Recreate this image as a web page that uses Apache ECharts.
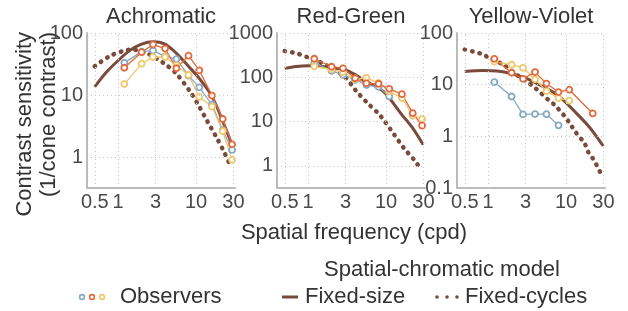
<!DOCTYPE html>
<html lang="en">
<head>
  <meta charset="utf-8">
</head>
<body style="margin: 0">
  <div id="container" style="width: 628px; height: 311px"></div>

  <script type="text/javascript" src="https://cdn.jsdelivr.net/npm/echarts@6/dist/echarts.min.js"></script>
  <script type="text/javascript">
    // spatial frequencies (cpd) used by the observers
    var freqs = [1.2, 2, 2.8, 4, 5.6, 8, 11, 16, 22, 29];
    var yvOrangeFreqs = [1.2, 2, 2.8, 4, 5.6, 8, 11, 22];

    var panelTitles = ['Achromatic', 'Red-Green', 'Yellow-Violet'];
    var xTicks = [0.5, 1, 3, 10, 30];
    var yTicks = [[1, 10, 100], [1, 10, 100, 1000], [0.1, 1, 10, 100]];

    // observers, contrast sensitivity
    var achBlue = [33, 50, 52, 42, 38, 20.5, 13.3, 7.0, 2.7, 1.3];
    var achOrange = [27.5, 49, 65, 56, 27, 43, 25, 9.8, 4.1, 1.6];
    var achYellow = [15, 32, 41, 41, 30, 21, 9.3, 6.5, 2.6, 0.9];

    var rgBlue = [213, 139, 113, 87, 67, 61, 37];
    var rgOrange = [262, 173, 159, 95, 73, 71, 55, 41.5, 15.5, 8.1];
    var rgYellow = [177, 150, 130, 90, 97, 75, 48, 34, 13.5, 11.4];

    var yvBlue = [11.2, 5.9, 2.65, 2.7, 2.68, 1.63];
    var yvOrange = [31.7, 17, 13, 17.5, 10.5, 7.2, 8.0, 2.77];
    var yvYellow = [28, 24.3, 21.2, 12.7, 7.5, 5.5, 4.9];

    // model curves, [cpd, sensitivity]
    var achFixedSize = [[0.5, 13.5], [0.7, 23], [1, 36], [1.4, 52], [2, 66], [2.8, 72], [4, 66], [5.6, 47], [8, 29], [11, 18.5], [16, 9.5], [22, 3.8], [30, 1.4]];
    var achFixedCycles = [[0.5, 29], [0.77, 42], [1.2, 52], [1.5, 54], [2.3, 47.5], [3.8, 33], [5.6, 22], [8.6, 10.8], [11, 6.5], [14, 3.75], [18, 2.15], [22.5, 1.26], [28, 0.7]];
    var rgFixedSize = [[0.5, 159], [0.7, 175], [1, 182], [1.5, 175], [2, 165], [3, 146], [4, 115], [5.6, 80], [8, 57], [10, 42], [16, 14.2], [22, 7.1], [30, 3.0]];
    var rgFixedCycles = [[0.5, 390], [0.7, 350], [1, 280], [1.5, 210], [2, 160], [3, 100], [4.1, 50], [5.8, 26], [8.1, 14.8], [9.5, 10.4], [12.8, 5], [17, 2.5], [23.5, 1.3], [27, 0.9]];
    var yvFixedSize = [[0.5, 18], [0.86, 18.8], [1.3, 18.3], [2, 16.3], [3, 13.5], [3.9, 11.2], [5.6, 8.5], [7.9, 6.2], [13, 3.0], [20, 1.5], [30, 0.65]];
    var yvFixedCycles = [[0.5, 47.7], [0.64, 43.7], [0.82, 39.4], [1.04, 33], [1.62, 23.5], [2.4, 15], [3.4, 10.5], [4.1, 8.4], [6, 5], [7.2, 4], [9.7, 2.4], [11.4, 1.7], [13.2, 1.22], [17.3, 0.73], [19.1, 0.51], [21.9, 0.38], [24.9, 0.27], [28, 0.19]];

    var blue = '#86a8c4';
    var orange = '#e2693a';
    var yellow = '#f0c76c';
    var brown = '#7a4a3a';
    var font = 'Liberation Sans, Arial, sans-serif';

    var panels = [
      { obs: [[freqs, achBlue, blue], [freqs, achYellow, yellow], [freqs, achOrange, orange]], size: achFixedSize, cycles: achFixedCycles, yMin: -0.5, yMax: 2 },
      { obs: [[freqs, rgBlue, blue], [freqs, rgYellow, yellow], [freqs, rgOrange, orange]], size: rgFixedSize, cycles: rgFixedCycles, yMin: -0.5, yMax: 3 },
      { obs: [[freqs, yvBlue, blue], [freqs, yvYellow, yellow], [yvOrangeFreqs, yvOrange, orange]], size: yvFixedSize, cycles: yvFixedCycles, yMin: -1, yMax: 2 }
    ];
    var gridLefts = [87, 277, 457];

    // axes are plain value axes holding log10 values
    function lg(pairs) {
      return pairs.map(function (p) { return [Math.log10(p[0]), Math.log10(p[1])]; });
    }
    function zip(xs, ys) {
      return ys.map(function (y, i) { return [xs[i], y]; });
    }

    var grid = [], xAxis = [], yAxis = [], series = [], graphic = [];
    var axisLine = { show: true, onZero: false, lineStyle: { color: '#bababa', width: 2 } };

    panels.forEach(function (p, i) {
      grid.push({ left: gridLefts[i], top: 33, width: 148, height: 155 });
      xAxis.push({
        type: 'value', gridIndex: i, min: -0.4, max: 1.5,
        axisLine: axisLine, axisTick: { show: false }, axisLabel: { show: false }, splitLine: { show: false }
      });
      yAxis.push({
        type: 'value', gridIndex: i, min: p.yMin, max: p.yMax,
        axisLine: axisLine, axisTick: { show: false }, axisLabel: { show: false }, splitLine: { show: false }
      });

      // grid lines + tick labels
      var marks = xTicks.map(function (v) {
        return { xAxis: Math.log10(v), label: { formatter: String(v) } };
      }).concat(yTicks[i].map(function (v) {
        return { yAxis: Math.log10(v), label: { formatter: String(v) } };
      }));
      series.push({
        type: 'line', xAxisIndex: i, yAxisIndex: i, data: [], silent: true,
        markLine: {
          silent: true, animation: false, symbol: ['none', 'none'],
          lineStyle: { type: [1, 3], color: '#c6c6c6', width: 1 },
          label: { position: 'start', distance: 4, fontSize: 20, fontFamily: font, color: '#4a4a4a' },
          emphasis: { disabled: true },
          data: marks
        }
      });

      series.push({
        type: 'line', xAxisIndex: i, yAxisIndex: i, data: lg(p.cycles), smooth: 0.3,
        showSymbol: false, silent: true, z: 3,
        lineStyle: { color: brown, width: 4.5, type: [0.5, 7], cap: 'round' }
      });
      series.push({
        type: 'line', xAxisIndex: i, yAxisIndex: i, data: lg(p.size), smooth: 0.3,
        showSymbol: false, silent: true, z: 3,
        lineStyle: { color: brown, width: 3 }
      });
      p.obs.forEach(function (o) {
        series.push({
          type: 'line', xAxisIndex: i, yAxisIndex: i, data: lg(zip(o[0], o[1])),
          symbol: 'circle', symbolSize: 6, silent: true, z: 4,
          lineStyle: { color: o[2], width: 1.3 },
          itemStyle: { color: '#fff', borderColor: o[2], borderWidth: 1.8 }
        });
      });

      graphic.push({
        type: 'text', x: gridLefts[i] + 74, y: 17,
        style: { text: panelTitles[i], font: '22px ' + font, fill: '#333', align: 'center', verticalAlign: 'middle', textAlign: 'center', textVerticalAlign: 'middle' }
      });
    });

    function label(text, x, y, align, rot) {
      return {
        type: 'text', x: x, y: y, rotation: rot || 0,
        style: { text: text, font: '22px ' + font, fill: '#333', align: align, verticalAlign: 'middle', textAlign: align, textVerticalAlign: 'middle' }
      };
    }
    graphic.push(label('Contrast sensitivity', 25, 32, 'right', Math.PI / 2));
    graphic.push(label('(1/cone contrast)', 49, 32, 'right', Math.PI / 2));
    graphic.push(label('Spatial frequency (cpd)', 354, 233, 'center'));
    graphic.push(label('Spatial-chromatic model', 442, 270, 'center'));

    // legend row
    [blue, orange, yellow].forEach(function (c, k) {
      graphic.push({ type: 'circle', shape: { cx: 82 + k * 10, cy: 297, r: 2.4 }, style: { fill: '#fff', stroke: c, lineWidth: 1.6 } });
    });
    graphic.push(label('Observers', 120, 297, 'left'));
    graphic.push({ type: 'line', shape: { x1: 282, y1: 297, x2: 298, y2: 297 }, style: { stroke: brown, lineWidth: 3 } });
    graphic.push(label('Fixed-size', 305, 297, 'left'));
    [0, 1, 2].forEach(function (k) {
      graphic.push({ type: 'circle', shape: { cx: 437 + k * 10, cy: 297, r: 1.8 }, style: { fill: brown } });
    });
    graphic.push(label('Fixed-cycles', 465, 297, 'left'));

    var myChart = echarts.init(document.getElementById('container'));
    myChart.setOption({
      animation: false,
      grid: grid,
      xAxis: xAxis,
      yAxis: yAxis,
      series: series,
      graphic: graphic
    });
  </script>
</body>
</html>
